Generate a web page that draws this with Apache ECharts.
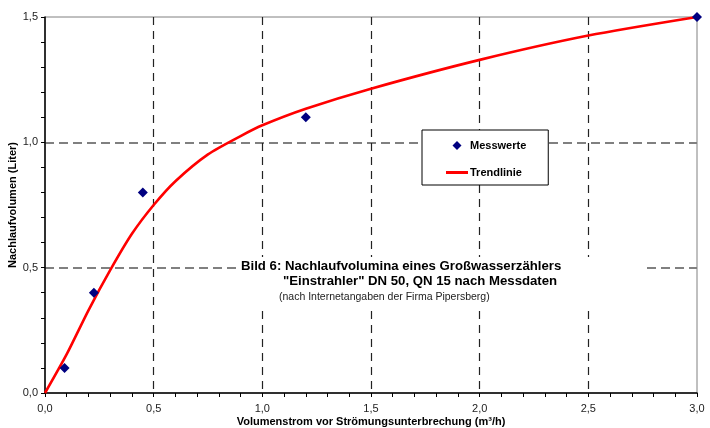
<!DOCTYPE html>
<html>
<head>
<meta charset="utf-8">
<script src="https://cdn.jsdelivr.net/npm/echarts@6/dist/echarts.min.js"></script>
<style>
  html, body { margin: 0; padding: 0; background: #fff; }
  #chart { width: 710px; height: 428px; }
</style>
</head>
<body>
<div id="chart"></div>
<script>
// Measured after-run volumes (flow in m³/h, volume in litres)
const measX = [0.09, 0.225, 0.45, 1.2, 3.0];
const measY = [0.1, 0.4, 0.8, 1.1, 1.5];

// Trend curve through the measurements
const trendX = [0, 0.1, 0.2, 0.3, 0.4, 0.5, 0.6, 0.75, 0.9, 1.0, 1.2, 1.5, 2.0, 2.5, 3.0];
const trendY = [0, 0.155, 0.33, 0.49, 0.635, 0.75, 0.845, 0.952, 1.025, 1.068, 1.134, 1.214, 1.329, 1.426, 1.5];

const xAxisRange = [0, 3.0];
const yAxisRange = [0, 1.5];
const axisStep = 0.5;

const seriesNames = ['Messwerte', 'Trendlinie'];
const xAxisTitle = 'Volumenstrom vor Strömungsunterbrechung (m³/h)';
const yAxisTitle = 'Nachlaufvolumen (Liter)';
const captionLines = [
  'Bild 6: Nachlaufvolumina eines Großwasserzählers',
  '"Einstrahler" DN 50, QN 15 nach Messdaten',
  '(nach Internetangaben der Firma Pipersberg)'
];

const FONT = '"Liberation Sans", Arial, sans-serif';
const fmt = v => v.toFixed(1).replace('.', ',');

const chart = echarts.init(document.getElementById('chart'), null, { renderer: 'canvas' });

const axisCommon = {
  type: 'value',
  interval: axisStep,
  axisLine: { show: true, onZero: false, lineStyle: { color: '#000', width: 1.5 } },
  axisTick: { show: true, inside: false, length: 4, lineStyle: { color: '#000', width: 1 } },
  minorTick: { show: true, splitNumber: 5, length: 4, lineStyle: { color: '#000', width: 1 } },
  axisLabel: {
    color: '#222', fontFamily: FONT, fontSize: 11,
    formatter: fmt, showMinLabel: true, showMaxLabel: true
  },
  nameLocation: 'middle',
  nameMoveOverlap: false,
  nameTextStyle: { color: '#000', fontFamily: FONT, fontSize: 11, fontWeight: 'bold' }
};

chart.setOption({
  animation: false,
  backgroundColor: '#fff',
  grid: {
    left: 45, top: 17, width: 652, height: 376,
    outerBoundsMode: 'none', containLabel: false,
    show: true, borderColor: '#808080', borderWidth: 1, backgroundColor: 'transparent'
  },
  xAxis: Object.assign({}, axisCommon, {
    min: xAxisRange[0], max: xAxisRange[1],
    name: xAxisTitle, nameGap: 23,
    axisLabel: Object.assign({}, axisCommon.axisLabel, { margin: 10 }),
    splitLine: {
      show: true, showMinLine: false, showMaxLine: false,
      lineStyle: { color: '#222', width: 1.2, type: [8, 6] }
    }
  }),
  yAxis: Object.assign({}, axisCommon, {
    min: yAxisRange[0], max: yAxisRange[1],
    name: yAxisTitle, nameGap: 27,
    axisLabel: Object.assign({}, axisCommon.axisLabel, { margin: 7 }),
    splitLine: {
      show: true, showMinLine: false, showMaxLine: false,
      lineStyle: { color: '#808080', width: 1.8, type: [9, 5] }
    }
  }),
  legend: {
    show: true,
    orient: 'vertical',
    left: 422, top: 130,
    padding: [10, 22, 7, 24],
    itemWidth: 22, itemHeight: 9, itemGap: 16,
    symbolKeepAspect: true,
    backgroundColor: '#fff',
    borderColor: '#000', borderWidth: 1,
    textStyle: { color: '#000', fontFamily: FONT, fontSize: 11, fontWeight: 'bold', padding: [0, 0, 0, -3] },
    data: [
      { name: seriesNames[0], icon: 'path://M5,0L10,5L5,10L0,5Z', itemStyle: { color: '#000080', opacity: 1 } },
      { name: seriesNames[1], icon: 'path://M0,0L22,0L22,3L0,3Z', itemStyle: { color: '#ff0000' } }
    ]
  },
  graphic: [
    {
      type: 'rect', z: 50,
      shape: { x: 237, y: 257, width: 408, height: 51 },
      style: { fill: '#fff' }
    },
    {
      type: 'text', z: 51, left: 241, top: 260,
      style: { text: captionLines[0], font: 'bold 13.2px ' + FONT, fill: '#000' }
    },
    {
      type: 'text', z: 51, left: 283, top: 275,
      style: { text: captionLines[1], font: 'bold 13.2px ' + FONT, fill: '#000' }
    },
    {
      type: 'text', z: 51, left: 279, top: 292,
      style: { text: captionLines[2], font: '10.5px ' + FONT, fill: '#222' }
    }
  ],
  series: [
    {
      name: seriesNames[1],
      type: 'line',
      data: trendX.map((x, i) => [x, trendY[i]]),
      symbol: 'none',
      smooth: 0.25,
      lineStyle: { color: '#ff0000', width: 2.6 },
      itemStyle: { color: '#ff0000' },
      z: 3
    },
    {
      name: seriesNames[0],
      type: 'scatter',
      data: measX.map((x, i) => [x, measY[i]]),
      symbol: 'diamond',
      symbolSize: 10,
      itemStyle: { color: '#000080', opacity: 1 },
      z: 4
    }
  ]
});
</script>
</body>
</html>
